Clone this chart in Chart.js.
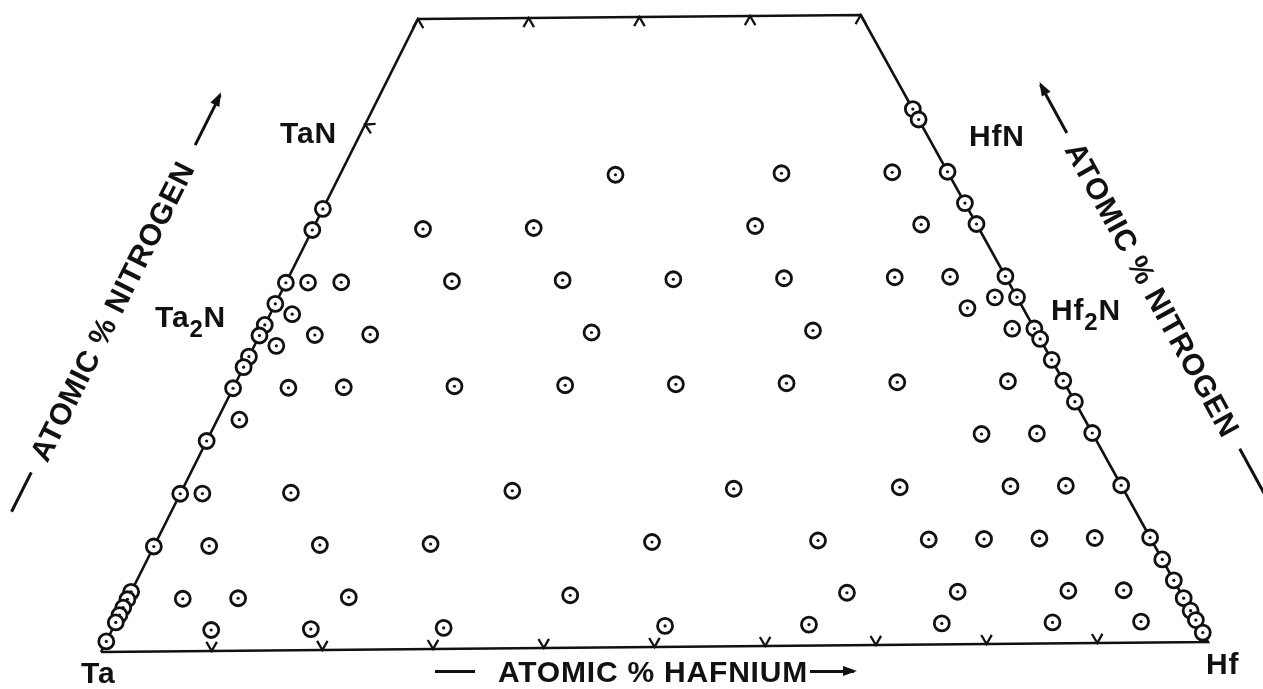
<!DOCTYPE html>
<html lang="en">
<head>
  <meta charset="UTF-8" />
  <title>Ta–Hf–N compositions</title>
  <script src="https://cdn.jsdelivr.net/npm/chart.js"></script>
  <style>
    body {
      margin: 0;
      background: #fff;
    }
    #wrap {
      position: relative;
      width: 1263px;
      height: 689px;
      overflow: hidden;
    }
    #chart {
      position: absolute;
      left: 0;
      top: 0;
    }
    /* hand lettering of the original drawing */
    .lbl {
      position: absolute;
      font: bold 30px "Liberation Sans", Arial, sans-serif;
      line-height: 30px;
      letter-spacing: 0.8px;
      color: #111;
      white-space: nowrap;
    }
    .sub {
      font-size: 24px;
      position: relative;
      top: 10px;
    }
    .rot {
      transform-origin: 0 50%;
    }
    /* dashes and arrows of the axis captions */
    .rule {
      display: inline-block;
      height: 3px;
      background: #111;
      vertical-align: 9px;
      position: relative;
    }
    .rule.r::after,
    .rule.l::after {
      content: "";
      position: absolute;
      top: -4px;
      border-top: 5.5px solid transparent;
      border-bottom: 5.5px solid transparent;
    }
    .rule.r::after {
      right: -3px;
      border-left: 14px solid #111;
    }
    .rule.l::after {
      left: -3px;
      border-right: 14px solid #111;
    }
  </style>
</head>
<body>
  <div id="wrap">
    <canvas id="chart" width="1263" height="689"></canvas>

    <div class="lbl" style="left:81px;top:658px">Ta</div>
    <div class="lbl" style="left:1206px;top:649px">Hf</div>
    <div class="lbl" style="left:280px;top:118px">TaN</div>
    <div class="lbl" style="left:969px;top:121px">HfN</div>
    <div class="lbl" style="left:155px;top:302px">Ta<span class="sub">2</span>N</div>
    <div class="lbl" style="left:1051px;top:295px">Hf<span class="sub">2</span>N</div>

    <div class="lbl" style="left:435px;top:657px"><span class="rule" style="width:40px;margin-right:23px"></span>ATOMIC % HAFNIUM<span class="rule r" style="width:44px;margin-left:2px"></span></div>
    <div class="lbl rot" style="left:12px;top:497px;transform:rotate(-63.4deg)"><span class="rule" style="width:44px;margin-right:15px"></span>ATOMIC % NITROGEN<span class="rule r" style="width:56px;margin-left:20px"></span></div>
    <div class="lbl rot" style="left:1040px;top:70px;transform:rotate(61.3deg)"><span class="rule l" style="width:55px;margin-right:13px"></span>ATOMIC % NITROGEN<span class="rule" style="width:70px;margin-left:16px"></span></div>
  </div>

  <script>
    // Compositions examined (balance is Ta)
    // ternary alloys: atomic % Hf and atomic % N
    const ternaryHf = [
      9, 18, 30, 50, 63, 75, 85, 93,
      5, 10, 20, 40, 65, 75, 85, 90,
      5, 15, 25, 45, 60, 70, 75, 80, 85,
      2, 10, 30, 50, 65, 75, 80,
      2, 70, 75,
      5, 10, 20, 30, 40, 50, 60, 70,
      2, 5, 10, 30, 50, 68, 2, 63, 65,
      2, 5, 15, 25, 35, 45, 55, 60,
      10, 20, 40, 55,
      25, 40, 50,
    ];
    const ternaryN = [
      2, 2, 2, 2, 2, 2, 2, 2,
      5, 5, 5, 5, 5, 5, 5, 5,
      10, 10, 10, 10, 10, 10, 10, 10, 10,
      15, 15, 15, 15, 15, 15, 15,
      22, 20, 20,
      25, 25, 25, 25, 25, 25, 25, 25,
      29, 30, 30, 30, 30, 30, 32, 32, 33,
      35, 35, 35, 35, 35, 35, 35, 35,
      40, 40, 40, 40,
      45, 45, 45,
    ];
    // Ta–N binary side (no Hf): atomic % N
    const taNitrideN = [42, 40, 35, 33, 31, 30, 28, 27, 25, 20, 15, 10, 5.7, 5.0, 4.2, 3.5, 2.8, 1.0];
    // Hf–N binary side (no Ta): atomic % N
    const hfNitrideN = [51, 50, 45, 42, 40, 35, 33, 30, 29, 27, 25, 23, 20, 15, 10, 7.9, 5.9, 4.2, 3.0, 2.1, 0.9];

    // tick marks on the frame
    const baseTicksHf = [10, 20, 30, 40, 50, 60, 70, 80, 90];
    const topTicksHf = [0, 10, 20, 30, 40];
    const taSideTicksN = [50];
    const TOP_N = 60; // diagram is cut off at 60 at.% N

    // ternary -> cartesian; the scanned drawing is a little sheared/tilted,
    // SKEW and TILT reproduce that
    const SKEW = -0.0228;
    const TILT = 0.0095;
    function toXY(hf, n) {
      const x = hf + n / 2;
      return { x: x + SKEW * n, y: n + TILT * x };
    }

    const points = [
      ...taNitrideN.map((n) => toXY(0, n)),
      ...hfNitrideN.map((n) => toXY(100 - n, n)),
      ...ternaryHf.map((h, i) => toXY(h, ternaryN[i])),
    ];
    const frame = [
      toXY(0, 0),
      toXY(0, TOP_N),
      toXY(100 - TOP_N, TOP_N),
      toXY(100, 0),
      toXY(0, 0),
    ];

    // small chevrons with their tip on the frame, pointing outwards
    const chevrons = {
      id: "chevrons",
      beforeDatasetsDraw(chart) {
        const { ctx } = chart;
        const sx = chart.scales.x;
        const sy = chart.scales.y;
        const pix = (hf, n) => {
          const p = toXY(hf, n);
          return [sx.getPixelForValue(p.x), sy.getPixelForValue(p.y)];
        };
        const centre = pix(35, 30);
        const sides = [
          { a: [0, 0], b: [100, 0], ticks: baseTicksHf.map((h) => [h, 0]) },
          { a: [0, TOP_N], b: [100 - TOP_N, TOP_N], ticks: topTicksHf.map((h) => [h, TOP_N]) },
          { a: [0, 0], b: [0, TOP_N], ticks: taSideTicksN.map((n) => [0, n]) },
        ];
        const len = 10.5;
        ctx.save();
        ctx.strokeStyle = "#111";
        ctx.lineWidth = 2.3;
        sides.forEach((s) => {
          const pa = pix(...s.a);
          const pb = pix(...s.b);
          let dx = pb[0] - pa[0];
          let dy = pb[1] - pa[1];
          const d = Math.hypot(dx, dy);
          dx /= d;
          dy /= d;
          s.ticks.forEach((t) => {
            const tip = pix(...t);
            let nx = -dy;
            let ny = dx;
            if ((centre[0] - tip[0]) * nx + (centre[1] - tip[1]) * ny < 0) {
              nx = -nx;
              ny = -ny;
            }
            const c = Math.cos(Math.PI / 6) * len;
            const w = Math.sin(Math.PI / 6) * len;
            ctx.beginPath();
            ctx.moveTo(tip[0] + nx * c - dx * w, tip[1] + ny * c - dy * w);
            ctx.lineTo(tip[0], tip[1]);
            ctx.lineTo(tip[0] + nx * c + dx * w, tip[1] + ny * c + dy * w);
            ctx.stroke();
          });
        });
        ctx.restore();
      },
    };

    new Chart(document.getElementById("chart"), {
      type: "scatter",
      data: {
        datasets: [
          {
            label: "centre dots",
            data: points,
            pointRadius: 1.6,
            pointBackgroundColor: "#111",
            pointBorderWidth: 0,
            order: 0,
          },
          {
            label: "compositions",
            data: points,
            pointRadius: 7.5,
            pointBackgroundColor: "#fff",
            pointBorderColor: "#111",
            pointBorderWidth: 2.8,
            order: 1,
          },
          {
            label: "frame",
            data: frame,
            showLine: true,
            borderColor: "#111",
            borderWidth: 2.6,
            pointRadius: 0,
            order: 2,
          },
        ],
      },
      options: {
        responsive: false,
        animation: false,
        events: [],
        layout: { padding: 0, autoPadding: false },
        plugins: {
          legend: { display: false },
          tooltip: { enabled: false },
        },
        scales: {
          x: { type: "linear", display: false, min: -9.124, max: 104.97 },
          y: { type: "linear", display: false, min: -3.524, max: 62.095 },
        },
      },
      plugins: [chevrons],
    });
  </script>
</body>
</html>
